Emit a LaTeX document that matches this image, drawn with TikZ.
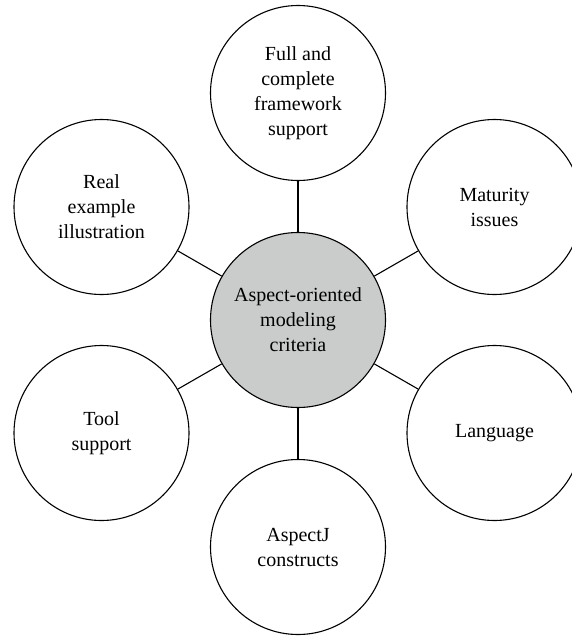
\documentclass[tikz,border=0pt]{standalone}
\usepackage{fontspec}
\setmainfont{Liberation Serif}
\definecolor{hubgray}{RGB}{201,204,203}
\begin{document}
\begin{tikzpicture}[x=1pt,y=-1pt,
  bubble/.style={circle, draw=black, line width=1.1pt, minimum size=175pt,
    inner sep=0pt, align=center, font=\fontsize{20}{25}\selectfont},
  hub/.style={bubble, fill=hubgray},
  link/.style={draw=black, line width=1.1pt}]
\useasboundingbox (0,0) rectangle (572,637);
\node[hub] (c) at (298,320) {Aspect-oriented\\modeling\\criteria};
\node[bubble] (top) at (298,93) {Full and\\complete\\framework\\support};
\node[bubble] (ul) at (101.5,207) {Real\\example\\illustration};
\node[bubble] (ur) at (494.5,207) {Maturity\\issues};
\node[bubble] (ll) at (101.5,433) {Tool\\support};
\node[bubble] (lr) at (494.5,433) {Language};
\node[bubble] (bot) at (298,547) {AspectJ\\constructs};
\foreach \n in {top,ul,ur,ll,lr,bot} \draw[link] (c) -- (\n);
\end{tikzpicture}
\end{document}
